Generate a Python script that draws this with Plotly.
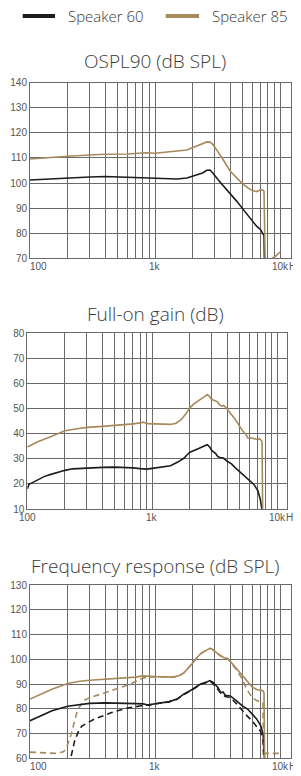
import math
import plotly.graph_objects as go

# The page body has an 8px default margin; the figure is sized so that it fills the
# 301x776 window exactly, and all pixel positions below are window positions.
WIN_W, WIN_H = 301, 776
PAGE_PAD = 8
W, H = WIN_W - PAGE_PAD, WIN_H - PAGE_PAD

BLACK = "#1c1c1c"
TAN = "#a8895c"
GRID = "#6a6a6a"
TXT = "#3a3a3a"
TICKC = "#555555"
TITLE_FONT = "Open Sans"
TITLE_WEIGHT = 300
TICK_FONT = "Liberation Sans Narrow, Liberation Sans, Arial"

series_names = ["Speaker 60", "Speaker 85"]

# ---------------- OSPL90 (dB SPL) ----------------
ospl_f_60 = [100, 150, 200, 300, 400, 600, 850, 1000, 1300, 1500, 1800, 2000, 2200, 2400, 2600, 2750,
             2900, 3000, 3200, 3500, 4000, 4500, 5000, 5500, 6000, 6500, 7000, 7300, 7450, 7550]
ospl_60 = [101.2, 101.7, 102.1, 102.4, 102.6, 102.3, 102.0, 101.7, 101.5, 101.6, 102.0, 102.8, 103.4, 104.0,
           105.1, 105.2, 104.0, 103.0, 101.3, 99.0, 95.8, 92.8, 89.9, 87.2, 84.6, 82.8, 81.4, 79.8, 79.0, 60.0]
ospl_f_85 = [100, 150, 200, 300, 400, 600, 850, 1000, 1300, 1500, 1800, 2000, 2200, 2400, 2600, 2750,
             2900, 3000, 3200, 3500, 4000, 4500, 5000, 5500, 6000, 6500, 7000, 7300, 7450, 7650, 7900,
             8600, 9300, 10000]
ospl_85 = [109.6, 110.3, 110.7, 111.2, 111.5, 111.6, 112.1, 111.9, 112.3, 112.8, 113.2, 114.1, 114.8, 115.4,
           116.4, 116.3, 115.4, 114.4, 112.5, 109.4, 104.7, 102.0, 99.8, 98.2, 97.0, 96.6, 97.3, 97.2, 96.7,
           62.0, 69.7, 69.9, 71.0, 72.5]

# ---------------- Full-on gain (dB) ----------------
gain_f_60 = [100, 103, 110, 120, 135, 150, 170, 200, 230, 300, 400, 500, 600, 700, 800, 900, 1000, 1200,
             1400, 1600, 1800, 1900, 2000, 2300, 2600, 2750, 2850, 3000, 3200, 3350, 3500, 3700, 4000, 4300,
             4600, 5000, 5500, 6000, 6500, 7000, 7300, 7500, 7550]
gain_60 = [18.0, 19.8, 20.5, 21.5, 22.8, 23.6, 24.4, 25.4, 26.0, 26.4, 26.6, 26.7, 26.6, 26.4, 26.1, 25.9,
           26.2, 26.6, 27.2, 28.7, 30.3, 31.6, 32.6, 33.9, 35.2, 35.6, 35.0, 33.2, 32.2, 30.8, 30.5, 30.3,
           28.9, 28.0, 26.5, 24.9, 22.9, 21.4, 19.8, 17.2, 14.0, 10.5, 5.0]
gain_f_85 = [100, 110, 120, 150, 170, 200, 250, 300, 400, 500, 600, 700, 800, 850, 900, 1000, 1200, 1400,
             1550, 1700, 1850, 2000, 2150, 2300, 2500, 2650, 2750, 2850, 2950, 3100, 3300, 3450, 3600, 3700,
             3850, 4000, 4300, 4600, 5000, 5300, 5600, 5800, 6100, 6500, 7000, 7200, 7400, 7550, 7650]
gain_85 = [34.7, 35.8, 36.7, 38.6, 39.8, 41.2, 42.0, 42.5, 42.9, 43.2, 43.5, 43.9, 44.3, 44.6, 44.0, 44.0,
           43.9, 43.7, 44.2, 45.6, 47.8, 50.3, 51.9, 52.9, 53.8, 55.0, 55.6, 55.0, 54.0, 53.3, 52.8, 51.5,
           51.0, 51.3, 50.6, 49.6, 47.8, 45.8, 42.9, 41.0, 39.8, 38.3, 38.4, 37.9, 37.6, 38.1, 37.6, 37.0, 5.0]

# ---------------- Frequency response (dB SPL) ----------------
fr_f_60 = [100, 120, 150, 200, 250, 300, 400, 500, 600, 700, 800, 900, 950, 1000, 1300, 1500, 1700, 2000,
           2300, 2600, 2750, 2900, 3000, 3200, 3350, 3500, 3650, 4000, 4500, 5000, 5500, 6000, 6500, 7000,
           7300, 7450, 7550]
fr_60 = [75.2, 77.0, 79.2, 81.0, 81.8, 82.2, 82.4, 82.4, 82.3, 82.1, 82.0, 81.4, 81.8, 82.0, 82.9, 83.9,
         85.9, 87.9, 89.9, 90.8, 91.4, 90.8, 89.9, 88.5, 86.5, 86.8, 85.5, 85.2, 83.2, 81.2, 79.9, 77.9,
         75.9, 73.2, 70.0, 66.5, 55.0]
fr_f_60_dash = [205, 215, 228, 245, 260, 300, 330, 450, 600, 780, 900, 1000, 1300, 1500, 1700, 2000, 2300,
                2600, 2750, 2900, 3000, 3200, 3400, 3650, 4000, 4500, 5000, 5300, 6000, 6300, 7000, 7300,
                7450, 7500]
fr_60_dash = [57.0, 62.0, 67.2, 71.0, 73.0, 74.8, 75.9, 78.5, 80.3, 81.2, 81.6, 82.0, 82.8, 83.8, 85.8,
              87.8, 89.8, 90.7, 91.2, 90.3, 89.3, 87.5, 86.0, 85.0, 84.5, 82.0, 79.0, 77.8, 75.0, 73.8,
              70.8, 67.5, 62.0, 55.0]
fr_f_85 = [100, 120, 150, 200, 250, 300, 400, 500, 600, 700, 800, 900, 1000, 1200, 1400, 1550, 1700, 1850,
           2000, 2150, 2300, 2500, 2750, 2900, 3000, 3300, 3600, 3800, 4000, 4500, 5000, 5500, 6000, 6500,
           7000, 7300, 7450, 7550]
fr_85 = [83.9, 85.8, 87.9, 90.2, 91.1, 91.5, 91.9, 92.1, 92.5, 92.8, 93.3, 93.0, 93.0, 92.9, 92.8, 93.3,
         94.5, 96.5, 98.5, 100.5, 102.1, 103.3, 104.4, 103.9, 103.2, 101.6, 100.5, 100.3, 99.2, 96.3, 93.5,
         91.2, 88.8, 87.8, 87.5, 87.3, 86.5, 55.0]
fr_f_85_dash = [100, 130, 160, 185, 195, 210, 225, 240, 270, 300, 400, 500, 600, 700, 800, 900, 1000,
                1200, 1400, 1550, 1700, 1850, 2000, 2150, 2300, 2500, 2750, 2900, 3000, 3300, 3600, 3800,
                4000, 4500, 5000, 5400, 6000, 6500, 7000, 7300, 7400, 8000, 9000, 10000]
fr_85_dash = [62.5, 62.1, 62.0, 62.6, 64.0, 68.5, 74.0, 79.5, 83.4, 84.5, 86.5, 88.0, 89.5, 91.0, 92.4,
              92.9, 93.0, 92.9, 92.8, 93.3, 94.5, 96.5, 98.5, 100.5, 102.1, 103.3, 104.4, 103.9, 103.2,
              101.6, 100.5, 100.3, 99.0, 95.6, 92.0, 88.0, 84.5, 83.3, 82.8, 82.5, 62.0, 62.0, 62.0, 62.0]

titles = ["OSPL90 (dB SPL)", "Full-on gain (dB)", "Frequency response (dB SPL)"]
y_ranges = [(70, 140), (10, 80), (60, 130)]
grid_freqs = [100, 200, 300, 400, 500, 600, 700, 800, 900,
              1000, 2000, 3000, 4000, 5000, 6000, 7000, 8000, 9000, 10000]
x_label_freqs = [100, 1000, 10000]
x_label_text = ["100", "1k", "10k"]
unit_text = "Hz"


def px(x):
    return (x - PAGE_PAD) / W


def py(y):
    return 1 - (y - PAGE_PAD) / H


# panel geometry in window pixels (top, bottom, left, right)
boxes = [(82.7, 258.3, 30.0, 290.7), (333.3, 509.0, 27.3, 287.3), (585.0, 758.3, 30.0, 290.7)]
title_y = [61, 314, 566]
first_label_shift = [8, 0, 8]
DECADE_PX = 125.0
DASH = "6px,4px"

fig = go.Figure()

panels = [
    [(ospl_f_60, ospl_60, BLACK, None), (ospl_f_85, ospl_85, TAN, None)],
    [(gain_f_60, gain_60, BLACK, None), (gain_f_85, gain_85, TAN, None)],
    [(fr_f_60_dash, fr_60_dash, BLACK, DASH), (fr_f_85_dash, fr_85_dash, TAN, DASH),
     (fr_f_60, fr_60, BLACK, None), (fr_f_85, fr_85, TAN, None)],
]

for i, traces in enumerate(panels):
    sfx = "" if i == 0 else str(i + 1)
    for fx, fy, col, dash in traces:
        fig.add_trace(go.Scatter(
            x=fx, y=fy, mode="lines", showlegend=False, hoverinfo="skip",
            line=dict(color=col, width=1.6, dash=dash),
            xaxis="x" + sfx, yaxis="y" + sfx))

layout = dict(
    width=W, height=H, autosize=False,
    margin=dict(l=0, r=0, t=0, b=0, autoexpand=False),
    paper_bgcolor="white", plot_bgcolor="white",
    showlegend=False,
    annotations=[], shapes=[],
)

# legend (line swatch + label)
legend_x = [(22.7, 55.0, 65.7), (165.7, 199.0, 210.0)]
LEG_Y = 16.0
for name, col, (x0, x1, tx) in zip(series_names, [BLACK, TAN], legend_x):
    layout["shapes"].append(dict(type="line", xref="paper", yref="paper",
                                 x0=px(x0), x1=px(x1), y0=py(LEG_Y), y1=py(LEG_Y),
                                 line=dict(color=col, width=4)))
    layout["annotations"].append(dict(text=name, xref="paper", yref="paper", x=px(tx), y=py(LEG_Y),
                                      xanchor="left", yanchor="middle", showarrow=False,
                                      font=dict(family=TITLE_FONT, size=15, color=TXT,
                                                weight=TITLE_WEIGHT)))

for i, (top, bot, left, right) in enumerate(boxes):
    sfx = "" if i == 0 else str(i + 1)
    xr = [2, 2 + (right - left) / DECADE_PX]
    ylo, yhi = y_ranges[i]
    layout["xaxis" + sfx] = dict(
        type="log", range=xr, domain=[px(left), px(right)], anchor="y" + sfx, automargin=False,
        tickmode="array", tickvals=grid_freqs, showticklabels=False, ticks="",
        showgrid=True, gridcolor=GRID, gridwidth=1, zeroline=False,
        showline=True, mirror=True, linecolor=GRID, linewidth=1, fixedrange=True)
    layout["yaxis" + sfx] = dict(
        range=[ylo, yhi], domain=[py(bot), py(top)], anchor="x" + sfx, automargin=False,
        tickmode="array", tickvals=list(range(ylo, yhi + 1, 10)), ticks="",
        tickfont=dict(family=TICK_FONT, size=10, color=TICKC),
        showgrid=True, gridcolor=GRID, gridwidth=1, zeroline=False,
        showline=True, mirror=True, linecolor=GRID, linewidth=1, fixedrange=True)
    # title
    layout["annotations"].append(dict(
        text=titles[i], xref="paper", yref="paper", x=px(155), y=py(title_y[i]),
        xanchor="center", yanchor="middle", showarrow=False,
        font=dict(family=TITLE_FONT, size=19, color=TXT, weight=TITLE_WEIGHT)))
    # x labels
    for j, (f, t) in enumerate(zip(x_label_freqs, x_label_text)):
        layout["annotations"].append(dict(
            text=t, xref="x" + sfx, yref="y" + sfx + " domain", x=math.log10(f), y=0,
            xanchor="center", yanchor="top", yshift=-1,
            xshift=first_label_shift[i] if j == 0 else 0, showarrow=False,
            font=dict(family=TICK_FONT, size=10, color=TICKC)))
    layout["annotations"].append(dict(
        text=unit_text, xref="x" + sfx, yref="y" + sfx + " domain", x=math.log10(10000), y=0,
        xanchor="left", yanchor="top", yshift=-1, xshift=7, showarrow=False,
        font=dict(family=TICK_FONT, size=10, color=TICKC)))

fig.update_layout(**layout)
fig.write_html("out.html")
